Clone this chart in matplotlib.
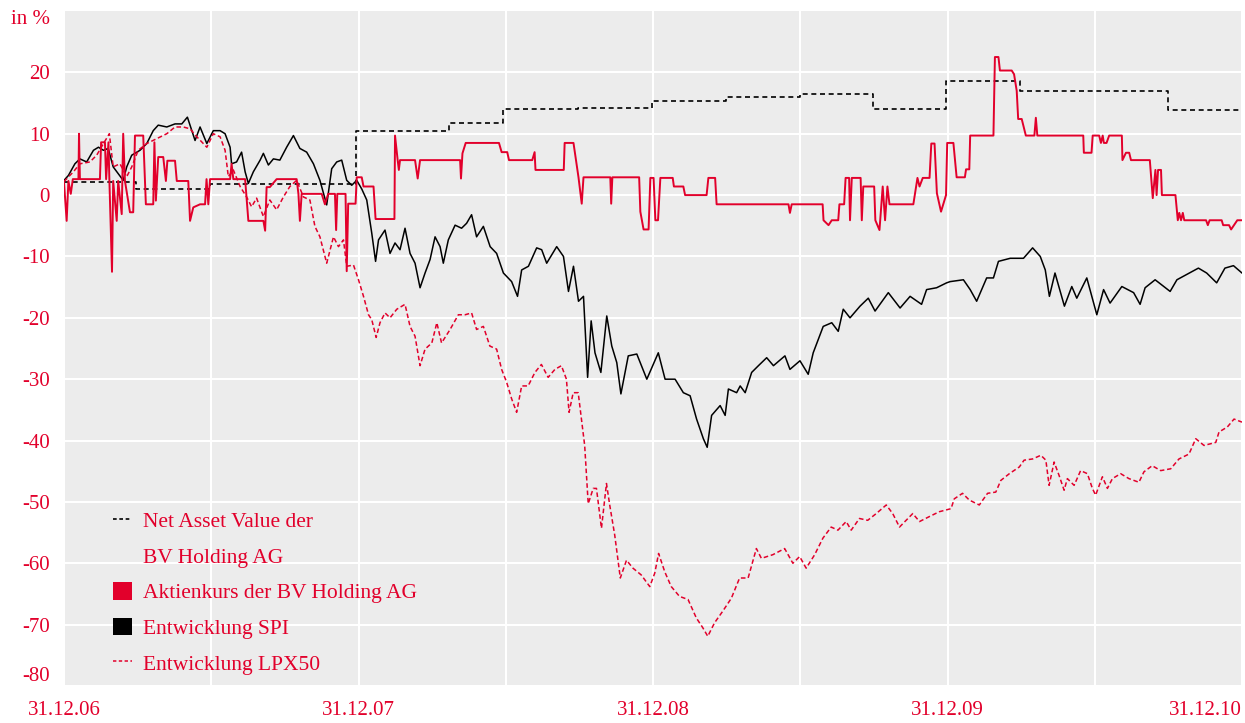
import matplotlib
matplotlib.use('Agg')
import matplotlib.pyplot as plt
from matplotlib.lines import Line2D
from matplotlib.patches import Patch

plt.rcParams['font.family'] = ['Liberation Serif', 'DejaVu Serif']
plt.rcParams['font.size'] = 15

RED = '#e2002b'
BG = '#ececec'

# time axis: years since 31.12.06
year_labels = ['31.12.06', '31.12.07', '31.12.08', '31.12.09', '31.12.10']
y_ticks = [-80, -70, -60, -50, -40, -30, -20, -10, 0, 10, 20]

# Net Asset Value der BV Holding AG (step)
nav_t = [0, 0.245, 0.496, 0.99, 1.307, 1.49, 1.745, 1.997, 2.248, 2.50,
         2.747, 2.995, 3.246, 3.749, 4.0]
nav_v = [2.1, 1.0, 1.8, 10.4, 11.7, 14.0, 14.2, 15.4, 16.0, 16.5,
         14.1, 18.6, 16.9, 13.8, 13.8]

# Aktienkurs der BV Holding AG
akt_t = [0, 0.009, 0.015, 0.023, 0.030, 0.049, 0.051, 0.054, 0.122, 0.126,
         0.139, 0.143, 0.151, 0.154, 0.163, 0.167, 0.179, 0.184, 0.196, 0.201,
         0.207, 0.224, 0.235, 0.241, 0.269, 0.278, 0.303, 0.307, 0.312, 0.320,
         0.337, 0.346, 0.351, 0.377, 0.383, 0.422, 0.428, 0.439, 0.462, 0.479,
         0.484, 0.490, 0.496, 0.564, 0.569, 0.575, 0.615, 0.626, 0.677, 0.683,
         0.688, 0.699, 0.722, 0.790, 0.796, 0.801, 0.807, 0.875, 0.886, 0.897,
         0.920, 0.924, 0.928, 0.956, 0.960, 0.965, 0.990, 0.994, 1.011, 1.017,
         1.051, 1.058, 1.122, 1.124, 1.133, 1.137, 1.141, 1.192, 1.201, 1.209,
         1.345, 1.348, 1.353, 1.364, 1.477, 1.486, 1.505, 1.511, 1.590, 1.598,
         1.601, 1.697, 1.700, 1.730, 1.747, 1.758, 1.764, 1.855, 1.858, 1.862,
         1.953, 1.957, 1.968, 1.985, 1.991, 2.002, 2.008, 2.017, 2.025, 2.067,
         2.071, 2.103, 2.109, 2.182, 2.188, 2.211, 2.216, 2.460, 2.465, 2.471,
         2.576, 2.579, 2.596, 2.607, 2.629, 2.633, 2.649, 2.654, 2.666, 2.669,
         2.675, 2.705, 2.709, 2.714, 2.751, 2.755, 2.769, 2.780, 2.788, 2.796,
         2.803, 2.884, 2.898, 2.905, 2.916, 2.939, 2.945, 2.956, 2.964, 2.978,
         2.986, 2.995, 2.999, 3.020, 3.031, 3.059, 3.063, 3.074, 3.077, 3.156,
         3.161, 3.173, 3.178, 3.218, 3.226, 3.235, 3.240, 3.252, 3.266, 3.295,
         3.300, 3.305, 3.461, 3.463, 3.489, 3.493, 3.515, 3.521, 3.527, 3.531,
         3.540, 3.549, 3.592, 3.594, 3.606, 3.617, 3.623, 3.687, 3.697, 3.706,
         3.710, 3.715, 3.725, 3.728, 3.774, 3.782, 3.787, 3.793, 3.799, 3.804,
         3.878, 3.884, 3.890, 3.931, 3.936, 3.956, 3.963, 3.973, 3.984, 4.0]
akt_v = [2.1, -4.2, 2.3, 0.2, 2.6, 2.6, 10.0, 2.6, 2.6, 8.6,
         8.6, 2.6, 8.6, 2.6, -12.5, 2.3, -4.2, 2.3, -3.1, 10.0,
         2.3, -2.8, -2.8, 9.7, 9.7, -1.5, -1.5, 8.6, -0.9, 6.2,
         6.2, 2.3, 5.6, 5.6, 2.3, 2.3, -4.2, -2.0, -1.5, -1.5,
         2.6, -1.5, 2.6, 2.6, 5.1, 2.6, 2.6, -4.2, -4.2, -5.8,
         1.3, 1.3, 2.6, 2.6, 0.2, -4.2, 0.2, 0.2, -1.5, 0.2,
         0.2, -5.7, 0.2, 0.2, -12.4, -1.4, -1.4, 2.9, 2.9, 1.4,
         1.4, -3.9, -3.9, 9.7, 5.7, 4.1, 5.7, 5.7, 2.7, 5.7,
         5.7, 2.7, 6.8, 8.5, 8.5, 7.0, 7.0, 5.7, 5.7, 7.0,
         4.1, 4.1, 8.5, 8.5, 2.9, -1.4, 2.9, 2.9, -1.4, 2.9,
         2.9, -2.7, -5.6, -5.6, 2.8, 2.8, -4.1, -4.1, 2.8, 2.8,
         1.4, 1.4, 0.0, 0.0, 2.8, 2.8, -1.5, -1.5, -2.9, -1.5,
         -1.5, -4.1, -4.9, -4.1, -4.1, -1.5, -1.5, 2.8, 2.8, -4.1,
         2.8, 2.8, -4.1, 1.4, 1.4, -4.1, -5.7, 1.4, -4.1, 1.4,
         -1.5, -1.5, 2.8, 1.4, 2.8, 2.8, 8.4, 8.4, 0.3, -2.7,
         -1.4, 0.0, 8.5, 8.5, 2.9, 2.9, 4.2, 4.2, 9.7, 9.7,
         22.5, 22.5, 20.3, 20.3, 19.7, 17.0, 12.4, 12.4, 9.7, 9.7,
         12.6, 9.7, 9.7, 6.9, 6.9, 9.7, 9.7, 8.5, 9.7, 8.5,
         8.5, 9.7, 9.7, 5.7, 6.9, 6.9, 5.7, 5.7, -0.5, 4.1,
         0.0, 4.1, 4.1, 0.0, 0.0, -4.1, -2.9, -4.1, -2.9, -4.1,
         -4.1, -4.9, -4.1, -4.1, -4.9, -4.9, -5.6, -4.9, -4.1, -4.1]

# Entwicklung SPI
spi_t = [0, 0.015, 0.037, 0.054, 0.077, 0.100, 0.117, 0.134, 0.150, 0.167,
         0.184, 0.201, 0.213, 0.230, 0.258, 0.281, 0.303, 0.320, 0.349, 0.377,
         0.400, 0.419, 0.434, 0.445, 0.462, 0.485, 0.507, 0.530, 0.547, 0.564,
         0.569, 0.586, 0.603, 0.615, 0.626, 0.643, 0.666, 0.677, 0.694, 0.711,
         0.733, 0.756, 0.779, 0.801, 0.824, 0.847, 0.869, 0.892, 0.909, 0.926,
         0.943, 0.960, 0.977, 0.994, 1.011, 1.028, 1.045, 1.058, 1.068, 1.090,
         1.107, 1.124, 1.141, 1.158, 1.175, 1.192, 1.209, 1.226, 1.243, 1.260,
         1.277, 1.288, 1.305, 1.328, 1.350, 1.367, 1.384, 1.401, 1.424, 1.447,
         1.469, 1.492, 1.520, 1.540, 1.554, 1.577, 1.605, 1.622, 1.639, 1.673,
         1.696, 1.713, 1.730, 1.747, 1.764, 1.778, 1.790, 1.803, 1.823, 1.843,
         1.860, 1.877, 1.891, 1.916, 1.945, 1.979, 2.018, 2.041, 2.075, 2.103,
         2.126, 2.148, 2.171, 2.184, 2.199, 2.228, 2.245, 2.256, 2.284, 2.296,
         2.313, 2.335, 2.358, 2.386, 2.409, 2.448, 2.465, 2.499, 2.527, 2.544,
         2.578, 2.607, 2.629, 2.646, 2.669, 2.703, 2.731, 2.754, 2.799, 2.839,
         2.873, 2.912, 2.929, 2.963, 2.997, 3.009, 3.054, 3.077, 3.099, 3.133,
         3.156, 3.173, 3.213, 3.258, 3.289, 3.315, 3.332, 3.346, 3.365, 3.397,
         3.422, 3.439, 3.473, 3.507, 3.530, 3.552, 3.592, 3.632, 3.654, 3.671,
         3.705, 3.756, 3.779, 3.852, 3.880, 3.914, 3.942, 3.971, 4.0]
spi_v = [2.4, 3.2, 5.1, 5.9, 5.4, 7.3, 7.8, 7.3, 7.6, 4.6,
         3.5, 2.4, 4.6, 6.5, 7.3, 8.4, 10.5, 11.4, 11.1, 11.6,
         11.6, 12.7, 10.5, 8.9, 11.1, 8.4, 10.5, 10.5, 10.0, 7.8,
         5.1, 5.4, 7.0, 3.8, 1.9, 3.8, 5.7, 6.8, 4.9, 5.9,
         5.7, 7.8, 9.7, 7.6, 7.0, 5.1, 2.4, -1.6, 4.3, 5.4,
         5.7, 2.4, 1.6, 2.4, 1.0, -0.8, -6.2, -10.8, -7.3, -5.7,
         -9.5, -7.8, -8.9, -5.4, -9.5, -11.1, -15.1, -12.7, -10.5, -6.8,
         -8.4, -11.1, -7.3, -4.9, -5.4, -4.6, -3.2, -6.8, -5.1, -8.4,
         -9.5, -12.7, -14.1, -16.5, -12.2, -11.6, -8.6, -8.9, -11.1, -8.4,
         -10.0, -15.7, -11.6, -17.3, -16.5, -29.7, -20.5, -25.7, -28.9, -19.7,
         -24.6, -27.3, -32.4, -26.2, -25.9, -30.0, -25.7, -30.0, -30.0, -32.2,
         -32.7, -36.5, -39.7, -41.1, -35.9, -34.3, -35.9, -31.6, -32.2, -31.1,
         -32.2, -28.9, -27.8, -26.5, -27.8, -26.2, -28.4, -27.0, -29.2, -25.7,
         -21.4, -20.8, -22.2, -18.6, -20.0, -18.1, -16.8, -18.9, -15.9, -18.4,
         -16.5, -17.8, -15.4, -15.1, -14.3, -14.1, -13.8, -15.4, -17.3, -13.5,
         -13.5, -10.8, -10.3, -10.3, -8.6, -10.0, -12.2, -16.5, -12.7, -18.1,
         -14.9, -16.8, -13.5, -19.5, -15.4, -17.6, -14.9, -15.9, -17.8, -15.1,
         -13.8, -15.7, -13.8, -11.9, -12.7, -14.3, -11.9, -11.5, -12.7]

# Entwicklung LPX50
lpx_t = [0, 0.032, 0.054, 0.088, 0.111, 0.134, 0.154, 0.167, 0.190, 0.213,
         0.230, 0.252, 0.281, 0.315, 0.349, 0.377, 0.405, 0.428, 0.451, 0.485,
         0.507, 0.530, 0.547, 0.558, 0.575, 0.598, 0.620, 0.637, 0.654, 0.677,
         0.699, 0.722, 0.745, 0.767, 0.790, 0.813, 0.835, 0.852, 0.869, 0.892,
         0.915, 0.932, 0.949, 0.960, 0.983, 1.000, 1.017, 1.034, 1.045, 1.060,
         1.073, 1.090, 1.107, 1.130, 1.158, 1.175, 1.192, 1.209, 1.226, 1.249,
         1.266, 1.282, 1.311, 1.339, 1.362, 1.384, 1.401, 1.424, 1.446, 1.469,
         1.486, 1.503, 1.520, 1.537, 1.554, 1.576, 1.599, 1.621, 1.644, 1.667,
         1.689, 1.706, 1.715, 1.729, 1.746, 1.757, 1.768, 1.774, 1.780, 1.797,
         1.808, 1.825, 1.842, 1.853, 1.870, 1.889, 1.910, 1.932, 1.960, 1.989,
         2.006, 2.019, 2.040, 2.062, 2.090, 2.119, 2.147, 2.169, 2.186, 2.209,
         2.237, 2.266, 2.294, 2.323, 2.351, 2.368, 2.407, 2.447, 2.475, 2.498,
         2.520, 2.549, 2.577, 2.605, 2.628, 2.656, 2.673, 2.701, 2.729, 2.758,
         2.792, 2.814, 2.837, 2.882, 2.905, 2.938, 2.972, 3.012, 3.023, 3.051,
         3.074, 3.108, 3.136, 3.164, 3.181, 3.210, 3.244, 3.260, 3.289, 3.317,
         3.334, 3.345, 3.362, 3.379, 3.396, 3.407, 3.430, 3.452, 3.475, 3.492,
         3.503, 3.526, 3.543, 3.560, 3.588, 3.616, 3.650, 3.667, 3.695, 3.724,
         3.758, 3.786, 3.820, 3.843, 3.871, 3.911, 3.922, 3.950, 3.973, 4.0]
lpx_v = [2.2, 3.8, 5.1, 5.4, 6.5, 8.4, 10.0, 4.6, 5.1, 3.0,
         4.6, 7.3, 8.4, 9.2, 10.0, 11.1, 11.1, 10.8, 9.5, 7.8,
         10.0, 9.5, 7.3, 3.0, 4.1, 1.4, -0.3, -1.9, -0.5, -3.5,
         -0.8, -2.4, -0.3, 1.4, 2.4, -0.3, -0.8, -5.1, -6.8, -11.1,
         -6.8, -8.4, -7.3, -11.6, -11.4, -13.8, -16.5, -19.5, -20.3, -23.2,
         -20.8, -19.2, -20.0, -18.6, -17.8, -21.4, -23.0, -27.8, -25.1, -24.1,
         -20.8, -24.1, -21.9, -19.5, -19.5, -19.2, -21.9, -21.4, -24.6, -25.1,
         -28.4, -30.5, -33.2, -35.4, -31.1, -31.1, -28.9, -27.6, -29.7, -28.4,
         -27.8, -30.0, -35.4, -32.2, -32.2, -36.5, -40.8, -45.7, -50.3, -47.8,
         -47.8, -54.3, -47.0, -50.5, -55.4, -62.4, -59.5, -60.8, -61.9, -63.8,
         -61.6, -58.4, -61.4, -63.8, -65.4, -65.9, -68.9, -70.5, -71.9, -69.7,
         -67.8, -65.7, -62.4, -62.4, -57.6, -59.2, -58.6, -57.6, -60.0, -58.9,
         -60.8, -58.6, -55.9, -54.1, -54.6, -53.2, -54.6, -52.7, -53.0, -51.9,
         -50.5, -51.9, -54.1, -51.9, -53.2, -52.4, -51.6, -51.1, -49.5, -48.6,
         -49.7, -50.5, -48.6, -48.4, -46.5, -45.4, -44.3, -43.2, -43.0, -42.4,
         -43.2, -47.3, -43.5, -45.7, -48.1, -46.2, -47.3, -44.9, -45.4, -47.8,
         -48.9, -45.9, -47.8, -46.2, -45.4, -46.2, -46.8, -45.1, -44.1, -44.9,
         -44.6, -43.0, -42.2, -39.7, -40.8, -40.3, -38.6, -37.8, -36.5, -37.0]


fig = plt.figure(figsize=(12.45, 7.23), dpi=100)
ax = fig.add_axes([64 / 1245, 37 / 723, 1178 / 1245, 675 / 723])
ax.set_facecolor(BG)
for s in ax.spines.values():
    s.set_visible(False)

ax.plot(nav_t, nav_v, color='black', lw=1.2, dashes=(3, 2.2),
        drawstyle='steps-post', zorder=3)
ax.plot(akt_t, akt_v, color=RED, lw=1.4, zorder=4)
ax.plot(spi_t, spi_v, color='black', lw=1.1, zorder=3)
ax.plot(lpx_t, lpx_v, color=RED, lw=1.1, dashes=(3, 1.8), zorder=3)

ax.set_xlim(0, 4)
ax.set_ylim(-80, 30)

# half-year grid, labels only at year ends
xt = [i * 0.5 for i in range(9)]
ax.set_xticks(xt)
ax.set_xticklabels([year_labels[i // 2] if i % 2 == 0 else '' for i in range(9)])
ax.set_yticks(y_ticks)
ax.set_yticklabels([str(v) for v in y_ticks])
ax.tick_params(axis='both', length=0, colors=RED, labelsize=15)
ax.tick_params(axis='y', pad=10)
ax.tick_params(axis='x', pad=11)
ax.grid(True, color='white', lw=1.5)
ax.set_axisbelow(True)

xlabs = [l for l in ax.get_xticklabels() if l.get_text()]
xlabs[-1].set_ha('right')
ax.get_yticklabels()[0].set_va('bottom')

ax.annotate('in %', xy=(0, 28.6), xycoords=('axes fraction', 'data'),
            xytext=(-10, 0), textcoords='offset points',
            ha='right', va='center', color=RED, fontsize=15)

handles = [Line2D([], [], color='black', lw=1.2, dashes=(2.2, 1.6)),
           Line2D([], [], color='none'),
           Patch(facecolor=RED),
           Patch(facecolor='black'),
           Line2D([], [], color=RED, lw=1.1, dashes=(2.2, 1.6))]
labels = ['Net Asset Value der', 'BV Holding AG', 'Aktienkurs der BV Holding AG',
          'Entwicklung SPI', 'Entwicklung LPX50']
ax.legend(handles, labels, loc='lower left', bbox_to_anchor=(0.0416, 0.017),
          frameon=False, labelcolor=RED, fontsize=15.5, handlelength=0.9,
          handleheight=0.9, handletextpad=0.5, labelspacing=0.66, borderpad=0,
          borderaxespad=0)

fig.savefig('out.png', dpi=100, facecolor='white')
